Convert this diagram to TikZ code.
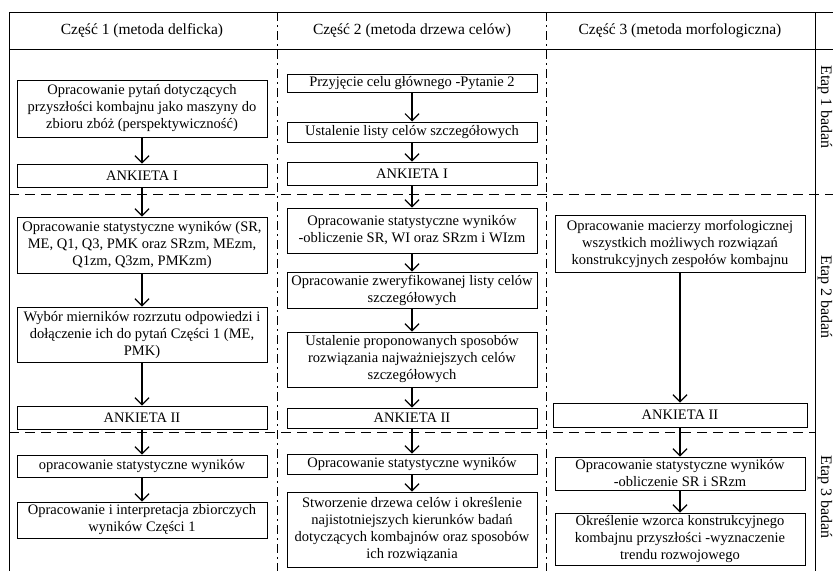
\documentclass[tikz,border=0pt]{standalone}
\usepackage{fontspec}
\setmainfont{Liberation Serif}
\usetikzlibrary{arrows.meta}
\begin{document}
\begin{tikzpicture}[x=1pt,y=-1pt,
  bx/.style={draw, line width=1pt, align=center, inner sep=0.5pt,
    font=\fontsize{14.5}{17}\selectfont},
  w1/.style={minimum width=250pt},
  hd/.style={font=\fontsize{15.5}{17}\selectfont},
  etap/.style={rotate=-90, font=\fontsize{16}{17}\selectfont},
  arr/.style={line width=1.4pt, -{Straight Barb[length=7pt,width=14pt,line width=1.2pt]}},
  frame/.style={line width=1pt},
  hdash/.style={line width=1pt, dash pattern=on 10pt off 6pt},
  vdash/.style={line width=1pt, dash pattern=on 9pt off 4pt on 2pt off 4pt}]
\useasboundingbox (0,0) rectangle (833,571);
% frame
\draw[frame] (9,12) -- (833,12);
\draw[frame] (9,49) -- (833,49);
\draw[frame] (9,12) -- (9,571);
\draw[frame] (815,12) -- (815,571);
\draw[vdash] (277,12) -- (277,571);
\draw[vdash] (546,12) -- (546,571);
\draw[hdash] (9,194) -- (833,194);
\draw[hdash] (9,432) -- (815,432);
% headers
\node[hd] (h1) at (142,31) {Część 1 (metoda delficka)};
\node[hd] (h2) at (412,31) {Część 2 (metoda drzewa celów)};
\node[hd] (h3) at (680,31) {Część 3 (metoda morfologiczna)};
% etap labels
\node[etap] (e1) at (825,107) {Etap 1 badań};
\node[etap] (e2) at (825,297) {Etap 2 badań};
\node[etap] (e3) at (825,497) {Etap 3 badań};
% column 1
\node[bx,w1,minimum height=57pt] (b11) at (142,108.5) {Opracowanie pytań dotyczących\\przyszłości kombajnu jako maszyny do\\zbioru zbóż (perspektywiczność)};
\node[bx,w1,minimum height=23pt] (a11) at (142,175.5) {ANKIETA I};
\node[bx,w1,minimum height=56pt] (b12) at (142,245) {Opracowanie statystyczne wyników (SR,\\ME, Q1, Q3, PMK oraz SRzm, MEzm,\\Q1zm, Q3zm, PMKzm)};
\node[bx,w1,minimum height=55pt] (b13) at (142,334.5) {Wybór mierników rozrzutu odpowiedzi i\\dołączenie ich do pytań Części 1 (ME,\\PMK)};
\node[bx,w1,minimum height=23pt] (a12) at (142,417.5) {ANKIETA II};
\node[bx,w1,minimum height=22pt] (b14) at (142,466) {opracowanie statystyczne wyników};
\node[bx,w1,minimum height=36pt] (b15) at (142,520) {Opracowanie i interpretacja zbiorczych\\wyników Części 1};
% column 2
\node[bx,w1,minimum height=18pt] (b21) at (412,83.5) {Przyjęcie celu głównego -Pytanie 2};
\node[bx,w1,minimum height=20pt] (b22) at (412,132) {Ustalenie listy celów szczegółowych};
\node[bx,w1,minimum height=23pt] (a21) at (412,173.5) {ANKIETA I};
\node[bx,w1,minimum height=45pt] (b23) at (412,230.5) {Opracowanie statystyczne wyników\\-obliczenie SR, WI oraz SRzm i WIzm};
\node[bx,w1,minimum height=36pt] (b24) at (412,290) {Opracowanie zweryfikowanej listy celów\\szczegółowych};
\node[bx,w1,minimum height=55pt] (b25) at (412,359.5) {Ustalenie proponowanych sposobów\\rozwiązania najważniejszych celów\\szczegółowych};
\node[bx,w1,minimum height=20pt] (a22) at (412,418) {ANKIETA II};
\node[bx,w1,minimum height=20pt] (b26) at (412,464) {Opracowanie statystyczne wyników};
\node[bx,w1,minimum height=75pt] (b27) at (412,529.5) {Stworzenie drzewa celów i określenie\\najistotniejszych kierunków badań\\dotyczących kombajnów oraz sposobów\\ich rozwiązania};
% column 3
\node[bx,w1,minimum height=57pt] (b31) at (680,243.5) {Opracowanie macierzy morfologicznej\\wszystkich możliwych rozwiązań\\konstrukcyjnych zespołów kombajnu};
\node[bx,minimum width=254pt,minimum height=24pt] (a32) at (680,415) {ANKIETA II};
\node[bx,w1,minimum height=33pt] (b32) at (680,473.5) {Opracowanie statystyczne wyników\\-obliczenie SR i SRzm};
\node[bx,w1,minimum height=52pt] (b33) at (680,539) {Określenie wzorca konstrukcyjnego\\kombajnu przyszłości -wyznaczenie\\trendu rozwojowego};
% arrows
\draw[arr] (b11) -- (a11);
\draw[arr] (a11) -- (b12);
\draw[arr] (b12) -- (b13);
\draw[arr] (b13) -- (a12);
\draw[arr] (a12) -- (b14);
\draw[arr] (b14) -- (b15);
\draw[arr] (b21) -- (b22);
\draw[arr] (b22) -- (a21);
\draw[arr] (a21) -- (b23);
\draw[arr] (b23) -- (b24);
\draw[arr] (b24) -- (b25);
\draw[arr] (b25) -- (a22);
\draw[arr] (a22) -- (b26);
\draw[arr] (b26) -- (b27);
\draw[arr] (b31) -- (a32);
\draw[arr] (a32) -- (b32);
\draw[arr] (b32) -- (b33);
\end{tikzpicture}
\end{document}
